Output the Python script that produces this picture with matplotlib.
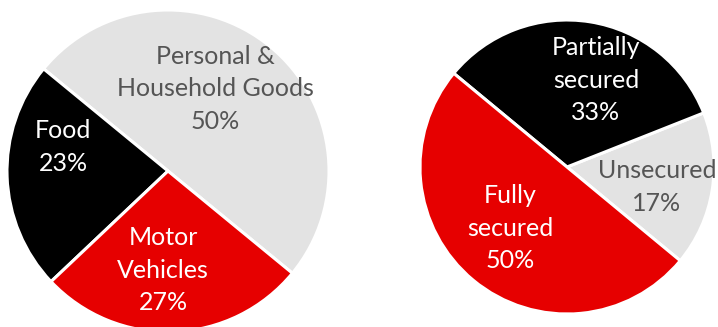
import matplotlib.pyplot as plt

# left pie: goods category
goods_labels = ["Personal &\nHousehold Goods", "Food", "Motor\nVehicles"]
goods_share = [50, 23, 27]
goods_colors = ["#e3e3e3", "#000000", "#e60000"]
goods_text = ["#555555", "white", "white"]
goods_pos = [(215, 238), (63, 180), (163, 57)]

# right pie: security
sec_labels = ["Unsecured", "Partially\nsecured", "Fully\nsecured"]
sec_share = [17, 33, 50]
sec_colors = ["#e3e3e3", "#000000", "#e60000"]
sec_text = ["#555555", "white", "white"]
sec_pos = [(657, 140), (596, 247), (510, 99)]

plt.rcParams["font.family"] = ["Lato", "DejaVu Sans"]

fig = plt.figure(figsize=(7.18, 3.27), dpi=100)
ax = fig.add_axes([0, 0, 1, 1])

ax.pie(goods_share, colors=goods_colors, startangle=-39.4, counterclock=True,
       center=(168, 156), radius=161,
       wedgeprops=dict(edgecolor="white", linewidth=2.2))
ax.pie(sec_share, colors=sec_colors, startangle=-39.6, counterclock=True,
       center=(567, 160), radius=147,
       wedgeprops=dict(edgecolor="white", linewidth=2.2))

for lab, val, c, (x, y) in zip(goods_labels, goods_share, goods_text, goods_pos):
    ax.text(x, y, f"{lab}\n{val}%", color=c, fontsize=18, ha="center", va="center",
            linespacing=1.5)
for lab, val, c, (x, y) in zip(sec_labels, sec_share, sec_text, sec_pos):
    ax.text(x, y, f"{lab}\n{val}%", color=c, fontsize=18, ha="center", va="center",
            linespacing=1.5)

ax.set_xlim(0, 718)
ax.set_ylim(0, 327)
ax.set_aspect("equal")
ax.axis("off")

fig.savefig("out.png", dpi=100)
